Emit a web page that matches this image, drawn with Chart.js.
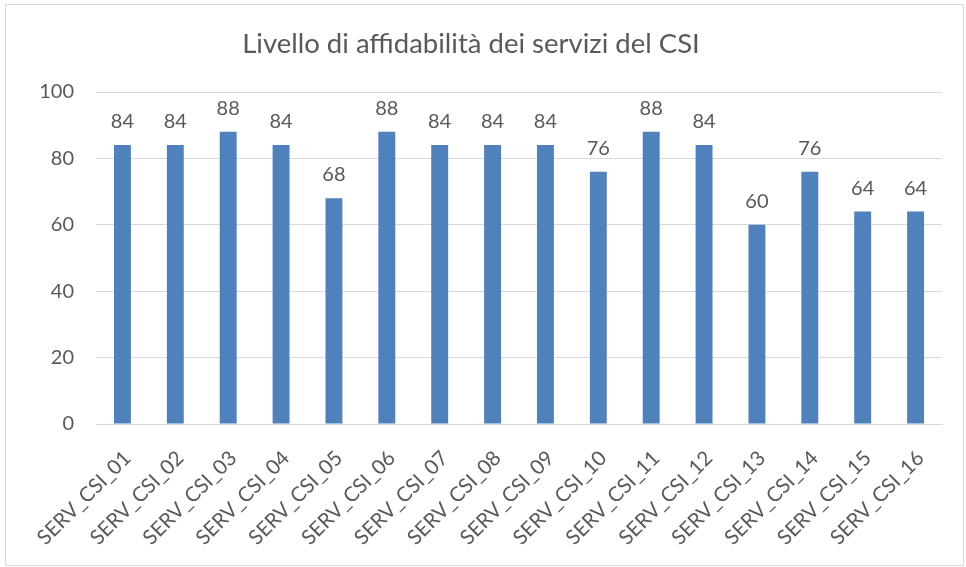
<!DOCTYPE html>
<html>
<head>
<meta charset="utf-8">
<script src="https://cdn.jsdelivr.net/npm/chart.js@4/dist/chart.umd.min.js"></script>
<style>
html,body{margin:0;padding:0;background:#fff;}
#wrap{position:relative;width:966px;height:567px;}
</style>
</head>
<body>
<div id="wrap"><canvas id="c" width="966" height="567"></canvas></div>
<script>
const categories = ["SERV_CSI_01","SERV_CSI_02","SERV_CSI_03","SERV_CSI_04","SERV_CSI_05","SERV_CSI_06","SERV_CSI_07","SERV_CSI_08","SERV_CSI_09","SERV_CSI_10","SERV_CSI_11","SERV_CSI_12","SERV_CSI_13","SERV_CSI_14","SERV_CSI_15","SERV_CSI_16"];
const values = [84,84,88,84,68,88,84,84,84,76,88,84,60,76,64,64];
const yTicks = [0,20,40,60,80,100];
const titleText = "Livello di affidabilità dei servizi del CSI";

const FONT = "Lato, 'Open Sans', sans-serif";
const TXT = "#595959";

const borderPlugin = {
  id: 'outerBorder',
  beforeDraw(chart) {
    const ctx = chart.ctx;
    ctx.save();
    ctx.fillStyle = '#fff';
    ctx.fillRect(0,0,chart.width,chart.height);
    ctx.strokeStyle = '#d9d9d9';
    ctx.lineWidth = 1;
    ctx.strokeRect(5.5, 4.5, 958, 561);
    ctx.restore();
  }
};

const labelPlugin = {
  id: 'valueLabels',
  afterDatasetsDraw(chart) {
    const ctx = chart.ctx;
    const meta = chart.getDatasetMeta(0);
    ctx.save();
    ctx.font = "20px " + FONT;
    ctx.fillStyle = TXT;
    ctx.textAlign = 'center';
    ctx.textBaseline = 'alphabetic';
    meta.data.forEach((bar, i) => {
      ctx.fillText(String(chart.data.datasets[0].data[i]), bar.x, bar.y - 17);
    });
    ctx.restore();
  }
};

new Chart(document.getElementById('c'), {
  type: 'bar',
  data: {
    labels: categories,
    datasets: [{
      data: values,
      backgroundColor: '#4F81BD',
      borderWidth: 0,
      barPercentage: 0.32,
      categoryPercentage: 1.0
    }]
  },
  options: {
    responsive: false,
    animation: false,
    devicePixelRatio: 1,
    layout: { padding: { top: 0, right: 24, bottom: 0, left: 0 } },
    plugins: {
      legend: { display: false },
      tooltip: { enabled: false },
      title: {
        display: true,
        text: titleText,
        color: TXT,
        font: { family: FONT, size: 27.5, weight: 'normal' },
        padding: { top: 28, bottom: 31 }
      }
    },
    scales: {
      x: {
        grid: { display: false, drawTicks: false },
        border: { display: true, color: '#d9d9d9', width: 1 },
        ticks: {
          color: TXT,
          font: { family: FONT, size: 20.5 },
          minRotation: 45,
          maxRotation: 45,
          autoSkip: false,
          padding: 22,
          labelOffset: 5
        },
        afterFit(scale) { scale.height = 143; }
      },
      y: {
        min: 0,
        max: 100,
        afterBuildTicks(scale) { scale.ticks = yTicks.map(v => ({ value: v })); },
        grid: { color: '#d9d9d9', drawTicks: false },
        border: { display: false },
        ticks: {
          color: TXT,
          font: { family: FONT, size: 20 },
          padding: 22
        },
        afterFit(scale) { scale.width = 96; }
      }
    }
  },
  plugins: [borderPlugin, labelPlugin]
});
</script>
</body>
</html>
